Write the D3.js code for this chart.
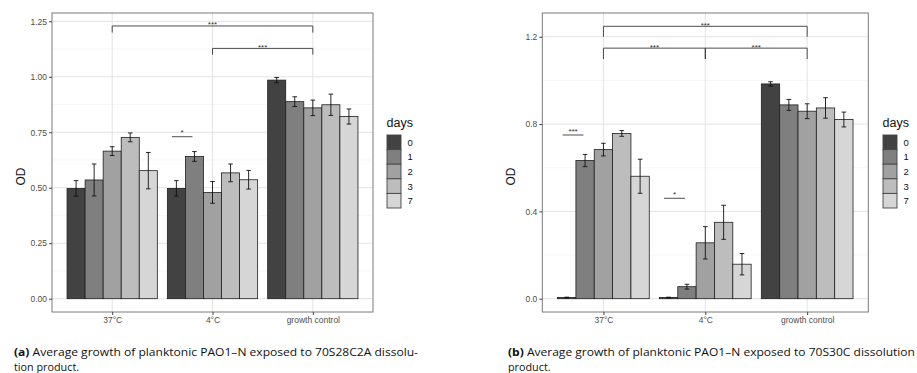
<!DOCTYPE html>
<html>
<head>
<meta charset="utf-8">
<script src="https://cdn.jsdelivr.net/npm/d3@7"></script>
<style>
  body { margin: 0; background: #fff; }
  svg text { font-family: "Liberation Sans", Arial, sans-serif; }
  .caption { font-family: "Open Sans", sans-serif !important; }
</style>
</head>
<body>
<svg id="canvas"></svg>
<script>
const groups = ["37°C", "4°C", "growth control"];
const days = ["0", "1", "2", "3", "7"];
const fills = ["#424242", "#7f7f7f", "#a1a1a1", "#bdbdbd", "#d6d6d6"];

// panel (a) means and error half-widths, one row per group
const odA = [
    [0.497, 0.535, 0.665, 0.727, 0.577],
    [0.497, 0.641, 0.479, 0.567, 0.536],
    [0.985, 0.888, 0.860, 0.874, 0.821]
];
const errA = [
    [0.035, 0.072, 0.020, 0.020, 0.082],
    [0.035, 0.022, 0.049, 0.040, 0.042],
    [0.012, 0.022, 0.035, 0.048, 0.034]
];
const ticksA = [0, 0.25, 0.5, 0.75, 1, 1.25];
const minorA = [0.125, 0.375, 0.625, 0.875, 1.125];

// panel (b)
const odB = [
    [0.005, 0.633, 0.683, 0.757, 0.561],
    [0.005, 0.055, 0.256, 0.350, 0.158],
    [0.984, 0.888, 0.859, 0.874, 0.821]
];
const errB = [
    [0.002, 0.028, 0.029, 0.013, 0.078],
    [0.002, 0.011, 0.074, 0.078, 0.049],
    [0.010, 0.025, 0.034, 0.047, 0.034]
];
const ticksB = [0, 0.4, 0.8, 1.2];
const minorB = [0.2, 0.6, 1.0];

// significance brackets: from/to group, bar height, tip length
const bracketsA = [
    {from: "37°C", to: "growth control", y: 1.229, tip: 0.03, label: "***"},
    {from: "4°C", to: "growth control", y: 1.128, tip: 0.028, label: "***"}
];
const bracketsB = [
    {from: "37°C", to: "growth control", y: 1.248, tip: 0.048, label: "***"},
    {from: "37°C", to: "4°C", y: 1.148, tip: 0.05, label: "***"},
    {from: "4°C", to: "growth control", y: 1.148, tip: 0.05, label: "***"}
];
// short lines within a group (offsets in category units)
const marksA = [{group: "4°C", x0: -0.405, x1: -0.2, y: 0.73, label: "*"}];
const marksB = [
    {group: "37°C", x0: -0.40, x1: -0.196, y: 0.75, label: "***"},
    {group: "4°C", x0: -0.405, x1: -0.2, y: 0.46, label: "*"}
];

const width = 917, height = 373;
const svg = d3.select("#canvas").attr("width", width).attr("height", height);

const drawPanel = (cfg) => {
    const g = svg.append("g");
    const x = d3.scalePoint().domain(groups).range([cfg.left, cfg.right]).padding(0.6);
    const step = x.step();
    const xDay = d3.scaleBand().domain(days).range([-0.45 * step, 0.45 * step]);
    const y = d3.scaleLinear().domain(cfg.domain).range([cfg.bottom, cfg.top]);

    // grid
    g.selectAll(".minor").data(cfg.minor).enter().append("line")
        .attr("x1", cfg.left).attr("x2", cfg.right)
        .attr("y1", d => y(d)).attr("y2", d => y(d))
        .attr("stroke", "#f0f0f0").attr("stroke-width", 0.6);
    g.selectAll(".major").data(cfg.ticks).enter().append("line")
        .attr("x1", cfg.left).attr("x2", cfg.right)
        .attr("y1", d => y(d)).attr("y2", d => y(d))
        .attr("stroke", "#e3e3e3").attr("stroke-width", 1);
    g.selectAll(".vmajor").data(groups).enter().append("line")
        .attr("x1", d => x(d)).attr("x2", d => x(d))
        .attr("y1", cfg.top).attr("y2", cfg.bottom)
        .attr("stroke", "#e3e3e3").attr("stroke-width", 1);

    // bars
    groups.forEach((grp, gi) => {
        const cx = x(grp);
        const bars = days.map((d, di) => ({day: d, i: di, v: cfg.od[gi][di], e: cfg.err[gi][di]}));
        g.selectAll(".bar" + gi).data(bars).enter().append("rect")
            .attr("x", d => cx + xDay(d.day))
            .attr("y", d => y(d.v))
            .attr("width", xDay.bandwidth())
            .attr("height", d => y(0) - y(d.v))
            .attr("fill", d => fills[d.i])
            .attr("stroke", "#1f1f1f")
            .attr("stroke-width", 0.8);
        const eb = g.selectAll(".err" + gi).data(bars).enter().append("g")
            .attr("transform", d => `translate(${cx + xDay(d.day) + xDay.bandwidth() / 2},0)`);
        eb.append("line").attr("y1", d => y(d.v - d.e)).attr("y2", d => y(d.v + d.e))
            .attr("stroke", "#111").attr("stroke-width", 0.9);
        eb.append("line").attr("x1", -2.3).attr("x2", 2.3)
            .attr("y1", d => y(d.v - d.e)).attr("y2", d => y(d.v - d.e))
            .attr("stroke", "#111").attr("stroke-width", 0.9);
        eb.append("line").attr("x1", -2.3).attr("x2", 2.3)
            .attr("y1", d => y(d.v + d.e)).attr("y2", d => y(d.v + d.e))
            .attr("stroke", "#111").attr("stroke-width", 0.9);
    });

    // brackets
    cfg.brackets.forEach(b => {
        const x0 = x(b.from), x1 = x(b.to);
        g.append("path")
            .attr("d", `M${x0},${y(b.y - b.tip)}V${y(b.y)}H${x1}V${y(b.y - b.tip)}`)
            .attr("fill", "none").attr("stroke", "#3a3a3a").attr("stroke-width", 0.9);
        g.append("text").attr("x", (x0 + x1) / 2).attr("y", y(b.y) + 1.5)
            .attr("text-anchor", "middle").attr("font-size", 8).attr("fill", "#333")
            .text(b.label);
    });
    cfg.marks.forEach(m => {
        const x0 = x(m.group) + m.x0 * step, x1 = x(m.group) + m.x1 * step;
        g.append("line").attr("x1", x0).attr("x2", x1)
            .attr("y1", y(m.y)).attr("y2", y(m.y))
            .attr("stroke", "#3a3a3a").attr("stroke-width", 0.9);
        g.append("text").attr("x", (x0 + x1) / 2).attr("y", y(m.y) - 1.5)
            .attr("text-anchor", "middle").attr("font-size", 8).attr("fill", "#333")
            .text(m.label);
    });

    // border
    g.append("rect").attr("x", cfg.left).attr("y", cfg.top)
        .attr("width", cfg.right - cfg.left).attr("height", cfg.bottom - cfg.top)
        .attr("fill", "none").attr("stroke", "#7a7a7a").attr("stroke-width", 1);

    // axes
    const yAxis = d3.axisLeft(y).tickValues(cfg.ticks).tickFormat(cfg.fmt).tickSize(3).tickPadding(2);
    const ya = g.append("g").attr("transform", `translate(${cfg.left},0)`).call(yAxis);
    const xAxis = d3.axisBottom(x).tickSize(3).tickPadding(2);
    const xa = g.append("g").attr("transform", `translate(0,${cfg.bottom})`).call(xAxis);
    [ya, xa].forEach(a => {
        a.select(".domain").remove();
        a.selectAll(".tick line").attr("stroke", "#444");
        a.selectAll(".tick text").attr("font-size", 8.5).attr("fill", "#4d4d4d");
    });

    g.append("text")
        .attr("transform", `translate(${cfg.left - 27},${(cfg.top + cfg.bottom) / 2 + 14}) rotate(-90)`)
        .attr("text-anchor", "middle").attr("font-size", 12).attr("fill", "#111")
        .text("OD");

    // legend
    const lg = g.append("g").attr("transform", `translate(${cfg.legendX},0)`);
    lg.append("text").attr("x", 0).attr("y", 127).attr("font-size", 12.5).attr("fill", "#111").text("days");
    const keyH = 14.6;
    lg.selectAll(".key").data(days).enter().append("rect")
        .attr("x", 0.5).attr("y", (d, i) => 135 + i * keyH)
        .attr("width", 14).attr("height", keyH)
        .attr("fill", (d, i) => fills[i]).attr("stroke", "#444").attr("stroke-width", 0.9);
    lg.selectAll(".klab").data(days).enter().append("text")
        .attr("x", 21).attr("y", (d, i) => 135 + i * keyH + keyH / 2 + 3.4)
        .attr("font-size", 9.5).attr("fill", "#111").text(d => d);

    // caption
    const cap = svg.append("text").attr("class", "caption")
        .attr("x", cfg.capX).attr("y", 356).attr("font-size", 10.8).attr("fill", "#111")
        .attr("textLength", cfg.capLen).attr("lengthAdjust", "spacingAndGlyphs");
    cap.append("tspan").attr("font-weight", "bold").text(cfg.capTag);
    cap.append("tspan").text(" " + cfg.capLine1);
    svg.append("text").attr("class", "caption")
        .attr("x", cfg.capX).attr("y", 371).attr("font-size", 10.8).attr("fill", "#111")
        .text(cfg.capLine2);
};

drawPanel({
    left: 52, right: 373, top: 13, bottom: 312,
    domain: [-0.06, 1.2875], ticks: ticksA, minor: minorA, fmt: d3.format(".2f"),
    od: odA, err: errA, brackets: bracketsA, marks: marksA, legendX: 386.5,
    capX: 14, capLen: 404, capTag: "(a)",
    capLine1: "Average growth of planktonic PAO1–N exposed to 70S28C2A dissolu-",
    capLine2: "tion product."
});
drawPanel({
    left: 542.3, right: 868.3, top: 13, bottom: 312,
    domain: [-0.061, 1.309], ticks: ticksB, minor: minorB, fmt: d3.format(".1f"),
    od: odB, err: errB, brackets: bracketsB, marks: marksB, legendX: 882.5,
    capX: 508, capLen: 407, capTag: "(b)",
    capLine1: "Average growth of planktonic PAO1–N exposed to 70S30C dissolution",
    capLine2: "product."
});
</script>
</body>
</html>
